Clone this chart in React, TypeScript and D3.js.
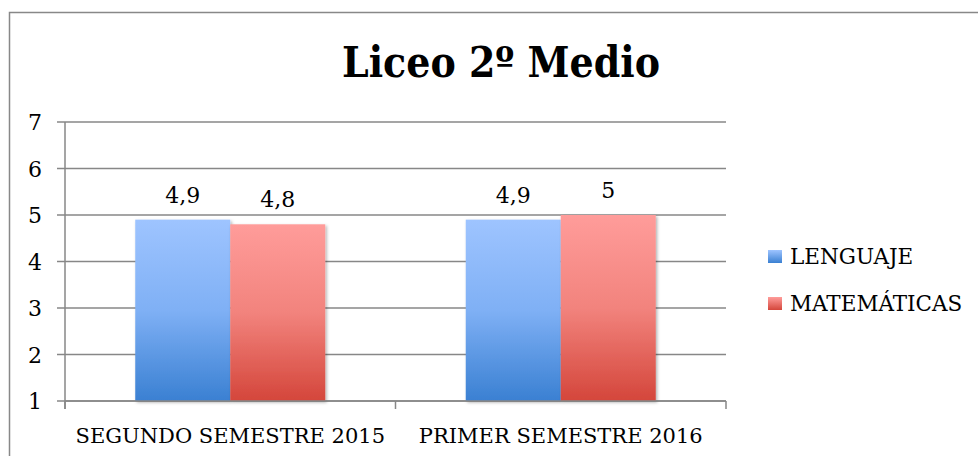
import React from "react";
import * as d3 from "d3";

const categories = ["SEGUNDO SEMESTRE 2015", "PRIMER SEMESTRE 2016"];
const seriesNames = ["LENGUAJE", "MATEMÁTICAS"];
const lenguaje = [4.9, 4.9];
const matematicas = [4.8, 5];
const labelsLenguaje = ["4,9", "4,9"];
const labelsMatematicas = ["4,8", "5"];
const yTicks = [1, 2, 3, 4, 5, 6, 7];
const title = "Liceo 2º Medio";

const W = 978;
const H = 456;
const FONT = "'DejaVu Serif'";
const TITLE_FONT = "'DejaVu Serif'";
const GRID = "#878787";
const txt = { fontFamily: FONT };

export default function App() {
  const left = 65;
  const right = 726;
  const top = 122;
  const bottom = 401;

  const x0 = d3.scaleBand<string>().domain(categories).range([left, right]).paddingInner(0).paddingOuter(0);
  const groupW = 190;
  const x1 = d3
    .scaleBand<string>()
    .domain(seriesNames)
    .range([(x0.bandwidth() - groupW) / 2, (x0.bandwidth() + groupW) / 2])
    .padding(0);
  const y = d3.scaleLinear().domain([1, 7]).range([bottom, top]);

  const series = [
    { name: seriesNames[0], values: lenguaje, labels: labelsLenguaje, grad: "gBlue" },
    { name: seriesNames[1], values: matematicas, labels: labelsMatematicas, grad: "gRed" },
  ];

  const xTickPositions = [left, ...categories.map((c) => (x0(c) as number) + x0.bandwidth())];

  return (
    <svg
      width={W}
      height={H}
      style={{ position: "absolute", left: 0, top: 0, background: "#fff", fontFamily: FONT }}
    >
      <defs>
        <linearGradient id="gBlue" x1="0" y1="0" x2="0" y2="1">
          <stop offset="0" stopColor="#9EC4FF" />
          <stop offset="0.5" stopColor="#7FB0F5" />
          <stop offset="1" stopColor="#3A80D2" />
        </linearGradient>
        <linearGradient id="gRed" x1="0" y1="0" x2="0" y2="1">
          <stop offset="0" stopColor="#FF9C9A" />
          <stop offset="0.5" stopColor="#F2837D" />
          <stop offset="1" stopColor="#D4463B" />
        </linearGradient>
        <linearGradient id="gBlueL" x1="0" y1="0" x2="0" y2="1">
          <stop offset="0" stopColor="#9EC4FF" />
          <stop offset="1" stopColor="#3A80D2" />
        </linearGradient>
        <linearGradient id="gRedL" x1="0" y1="0" x2="0" y2="1">
          <stop offset="0" stopColor="#FF9C9A" />
          <stop offset="1" stopColor="#D4463B" />
        </linearGradient>
        <filter id="shadow" x="-10%" y="-10%" width="130%" height="130%">
          <feDropShadow dx="1.5" dy="1.5" stdDeviation="1.5" floodColor="#000" floodOpacity="0.3" />
        </filter>
      </defs>

      {/* frame */}
      <path d={`M${W + 2},12.5 H9.5 V${H + 2}`} fill="none" stroke="#888" strokeWidth={1.5} />

      {/* title */}
      <text x={501} y={77} textAnchor="middle" fontSize={42} fontWeight="bold" fill="#000"
        textLength={318} lengthAdjust="spacingAndGlyphs" style={{ fontFamily: TITLE_FONT }}>
        {title}
      </text>

      {/* gridlines */}
      {yTicks.map((t) => (
        <line key={t} x1={57} x2={right} y1={y(t)} y2={y(t)} stroke={GRID} strokeWidth={1.5} />
      ))}
      {/* y axis */}
      <line x1={left} x2={left} y1={top} y2={bottom + 8} stroke={GRID} strokeWidth={1.5} />
      {/* x ticks */}
      {xTickPositions.map((p, i) => (
        <line key={i} x1={p} x2={p} y1={bottom} y2={bottom + 8} stroke={GRID} strokeWidth={1.5} />
      ))}
      {/* y labels */}
      {yTicks.map((t) => (
        <text key={t} x={42} y={y(t) + 8} textAnchor="end" fontSize={22} fill="#000" style={txt}>
          {t}
        </text>
      ))}

      {/* bars */}
      {series.map((s) =>
        categories.map((c, i) => {
          const bx = (x0(c) as number) + (x1(s.name) as number);
          const by = y(s.values[i]);
          return (
            <rect
              key={s.name + c}
              x={bx}
              y={by}
              width={x1.bandwidth()}
              height={bottom - by}
              fill={`url(#${s.grad})`}
              filter="url(#shadow)"
            />
          );
        })
      )}
      {/* x axis line over bars */}
      <line x1={left} x2={right} y1={bottom} y2={bottom} stroke={GRID} strokeWidth={1.5} />

      {/* data labels */}
      {series.map((s) =>
        categories.map((c, i) => {
          const bx = (x0(c) as number) + (x1(s.name) as number) + x1.bandwidth() / 2;
          return (
            <text key={"l" + s.name + c} x={bx} y={y(s.values[i]) - 17} textAnchor="middle" fontSize={22} fill="#000" style={txt}>
              {s.labels[i]}
            </text>
          );
        })
      )}

      {/* x labels */}
      {categories.map((c) => (
        <text key={c} x={(x0(c) as number) + x0.bandwidth() / 2} y={443} textAnchor="middle" fontSize={21} fill="#000" style={txt}>
          {c}
        </text>
      ))}

      {/* legend */}
      {series.map((s, i) => (
        <g key={"lg" + s.name} transform={`translate(768, ${250 + i * 47})`}>
          <rect x={0} y={0} width={14} height={13} fill={`url(#${s.grad}L)`} />
          <text x={22} y={14} fontSize={21.5} fill="#000" style={txt}>
            {s.name}
          </text>
        </g>
      ))}
    </svg>
  );
}
